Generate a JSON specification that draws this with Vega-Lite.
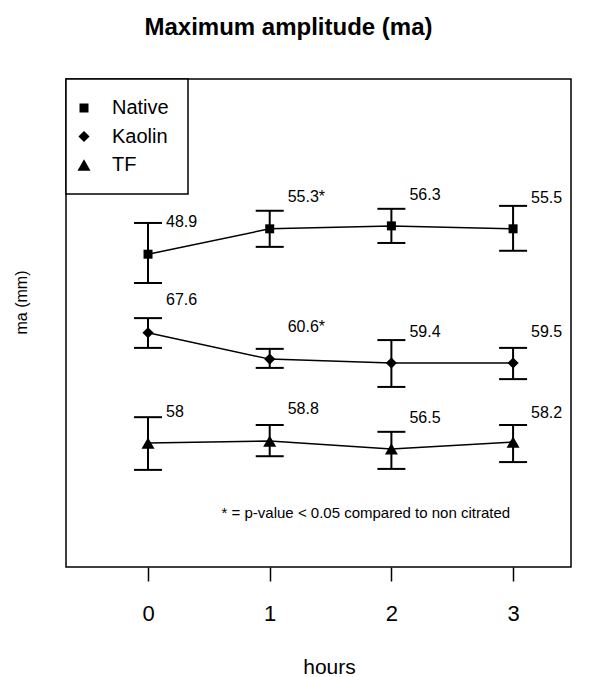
{
  "$schema": "https://vega.github.io/schema/vega-lite/v6.json",
  "width": 505,
  "height": 488,
  "autosize": "none",
  "padding": {"left": 66, "top": 79, "right": 23, "bottom": 110},
  "background": "white",
  "title": {"text": "Maximum amplitude (ma)", "fontSize": 24, "fontWeight": "bold", "color": "black", "anchor": "middle", "baseline": "alphabetic", "offset": 19, "dx": -30},
  "config": {
    "font": "Liberation Sans",
    "view": {"stroke": "black", "strokeWidth": 1.5},
    "axis": {"grid": false, "domain": false, "labelColor": "black", "titleColor": "black", "tickColor": "black"},
    "legend": {
      "orient": "top-left", "offset": 0, "padding": 19,
      "strokeColor": "black", "strokeWidth": 1.5, "fillColor": "white",
      "labelFontSize": 20, "labelColor": "black", "labelOffset": 18, "symbolOffset": -11, "rowPadding": 8.5,
      "symbolStrokeWidth": 0, "symbolFillColor": "black", "symbolOpacity": 1
    }
  },
  "datasets": {
    "main": [
      {"group": "Native", "hour": 0, "y": 64.1, "lo": 58.2, "hi": 70.5, "label": "48.9", "ly": 70.7},
      {"group": "Native", "hour": 1, "y": 69.3, "lo": 65.6, "hi": 73.0, "label": "55.3*", "ly": 75.8},
      {"group": "Native", "hour": 2, "y": 69.9, "lo": 66.4, "hi": 73.4, "label": "56.3", "ly": 76.2},
      {"group": "Native", "hour": 3, "y": 69.3, "lo": 64.8, "hi": 74.0, "label": "55.5", "ly": 75.6},
      {"group": "Kaolin", "hour": 0, "y": 48.0, "lo": 44.9, "hi": 51.0, "label": "67.6", "ly": 54.7},
      {"group": "Kaolin", "hour": 1, "y": 42.6, "lo": 40.8, "hi": 44.7, "label": "60.6*", "ly": 49.2},
      {"group": "Kaolin", "hour": 2, "y": 41.8, "lo": 36.9, "hi": 46.5, "label": "59.4", "ly": 48.2},
      {"group": "Kaolin", "hour": 3, "y": 41.8, "lo": 38.5, "hi": 44.9, "label": "59.5", "ly": 48.2},
      {"group": "TF", "hour": 0, "y": 25.4, "lo": 19.9, "hi": 30.7, "label": "58", "ly": 31.8},
      {"group": "TF", "hour": 1, "y": 25.8, "lo": 22.7, "hi": 29.1, "label": "58.8", "ly": 32.4},
      {"group": "TF", "hour": 2, "y": 24.2, "lo": 20.1, "hi": 27.7, "label": "56.5", "ly": 30.5},
      {"group": "TF", "hour": 3, "y": 25.6, "lo": 21.5, "hi": 29.1, "label": "58.2", "ly": 31.6}
    ],
    "note": [
      {"hour": 1.79, "y": 11.1, "text": "* = p-value < 0.05 compared to non citrated"}
    ]
  },
  "layer": [
    {
      "data": {"name": "main"},
      "mark": {"type": "line", "color": "black", "strokeWidth": 1.5},
      "encoding": {
        "x": {"field": "hour", "type": "quantitative", "title": "hours",
          "scale": {"domain": [-0.674, 3.476], "nice": false, "zero": false},
          "axis": {"values": [0, 1, 2, 3], "format": "d", "tickSize": 14, "tickWidth": 1.5, "labelFontSize": 22, "labelPadding": 22, "labelFlush": false,
            "titleFontSize": 21, "titleFontWeight": "normal", "titleX": 263, "titleY": 106, "titleAlign": "center", "titleBaseline": "alphabetic"}},
        "y": {"field": "y", "type": "quantitative", "title": "ma (mm)",
          "scale": {"domain": [0, 100], "nice": false, "zero": false},
          "axis": {"ticks": false, "labels": false, "titleFontSize": 16, "titleFontWeight": "normal", "titleX": -45, "titleY": 223, "titleAngle": -90, "titleAlign": "center", "titleBaseline": "middle"}},
        "detail": {"field": "group", "type": "nominal"}
      }
    },
    {
      "data": {"name": "main"},
      "mark": {"type": "rule", "color": "black", "strokeWidth": 2},
      "encoding": {
        "x": {"field": "hour", "type": "quantitative", "title": "hours"},
        "y": {"field": "lo", "type": "quantitative", "title": "ma (mm)"},
        "y2": {"field": "hi"}
      }
    },
    {
      "data": {"name": "main"},
      "mark": {"type": "tick", "orient": "horizontal", "color": "black", "size": 28, "thickness": 2, "opacity": 1},
      "encoding": {
        "x": {"field": "hour", "type": "quantitative", "title": "hours"},
        "y": {"field": "hi", "type": "quantitative", "title": "ma (mm)"}
      }
    },
    {
      "data": {"name": "main"},
      "mark": {"type": "tick", "orient": "horizontal", "color": "black", "size": 28, "thickness": 2, "opacity": 1},
      "encoding": {
        "x": {"field": "hour", "type": "quantitative", "title": "hours"},
        "y": {"field": "lo", "type": "quantitative", "title": "ma (mm)"}
      }
    },
    {
      "data": {"name": "main"},
      "mark": {"type": "point", "filled": true, "color": "black", "opacity": 1},
      "encoding": {
        "x": {"field": "hour", "type": "quantitative", "title": "hours"},
        "y": {"field": "y", "type": "quantitative", "title": "ma (mm)"},
        "shape": {"field": "group", "type": "nominal", "title": null,
          "scale": {"domain": ["Native", "Kaolin", "TF"], "range": ["square", "diamond", "triangle-up"]}},
        "size": {"field": "group", "type": "nominal", "title": null,
          "scale": {"domain": ["Native", "Kaolin", "TF"], "range": [81, 170, 190]}}
      }
    },
    {
      "data": {"name": "main"},
      "mark": {"type": "text", "align": "left", "baseline": "middle", "dx": 18, "fontSize": 16, "color": "black"},
      "encoding": {
        "x": {"field": "hour", "type": "quantitative", "title": "hours"},
        "y": {"field": "ly", "type": "quantitative", "title": "ma (mm)"},
        "text": {"field": "label", "type": "nominal"}
      }
    },
    {
      "data": {"name": "note"},
      "mark": {"type": "text", "align": "center", "baseline": "middle", "fontSize": 15, "color": "black"},
      "encoding": {
        "x": {"field": "hour", "type": "quantitative", "title": "hours"},
        "y": {"field": "y", "type": "quantitative", "title": "ma (mm)"},
        "text": {"field": "text", "type": "nominal"}
      }
    }
  ]
}
